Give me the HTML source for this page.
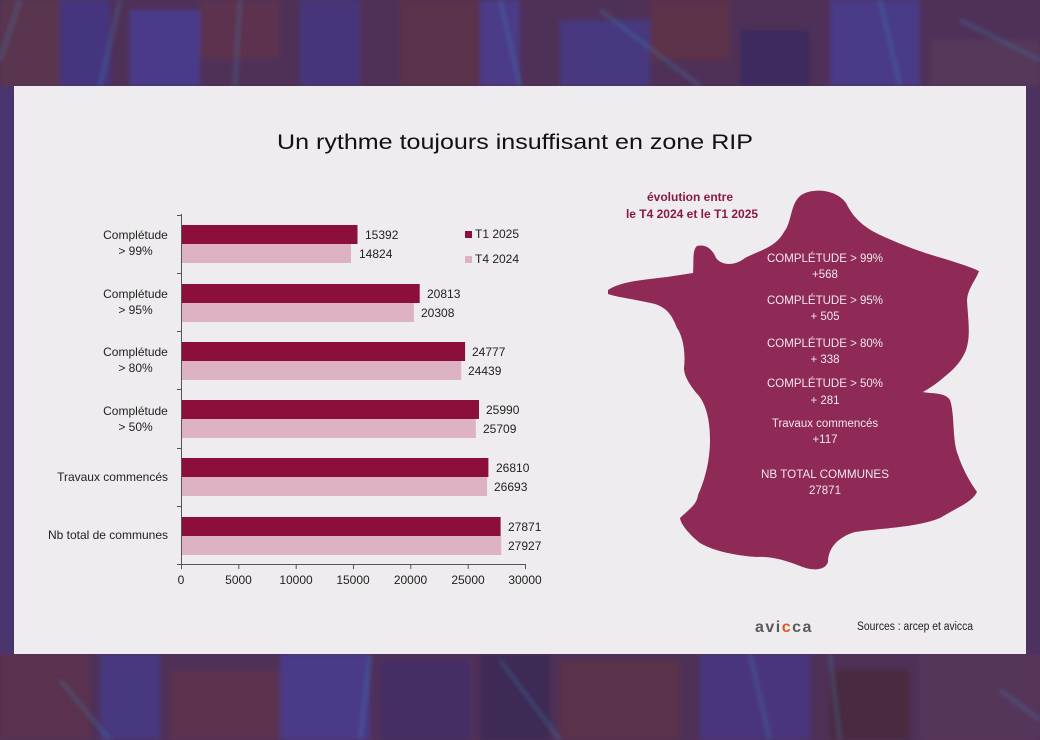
<!DOCTYPE html>
<html><head><meta charset="utf-8">
<style>
html,body{margin:0;padding:0;width:1040px;height:740px;overflow:hidden;background:#4e3058;}
svg{display:block;}
text{font-family:"Liberation Sans",Arial,sans-serif;}
</style></head>
<body>
<svg width="1040" height="740" viewBox="0 0 1040 740" xmlns="http://www.w3.org/2000/svg">
<defs>
<filter id="bl" x="-10%" y="-10%" width="120%" height="120%"><feGaussianBlur stdDeviation="2.5"/></filter>
</defs>
<!-- background texture -->
<rect x="0" y="0" width="1040" height="740" fill="#4f3158"/>
<g filter="url(#bl)">
<rect x="0" y="0" width="60" height="86" fill="#5a3450"/>
<rect x="60" y="0" width="50" height="86" fill="#45357e"/>
<rect x="130" y="10" width="70" height="76" fill="#4a3a8a"/>
<rect x="200" y="0" width="80" height="60" fill="#5c3350"/>
<rect x="300" y="0" width="60" height="86" fill="#46357a"/>
<rect x="400" y="0" width="100" height="86" fill="#5a3248"/>
<rect x="480" y="0" width="40" height="86" fill="#4c3a88"/>
<rect x="560" y="20" width="90" height="66" fill="#47387f"/>
<rect x="650" y="0" width="80" height="60" fill="#5b3249"/>
<rect x="740" y="30" width="70" height="56" fill="#3d2c5e"/>
<rect x="830" y="0" width="90" height="86" fill="#4a3b87"/>
<rect x="930" y="40" width="110" height="46" fill="#55375a"/>
<rect x="0" y="654" width="90" height="86" fill="#5a3350"/>
<rect x="100" y="654" width="60" height="86" fill="#47387f"/>
<rect x="170" y="670" width="110" height="70" fill="#5c3350"/>
<rect x="280" y="654" width="90" height="86" fill="#4a3a88"/>
<rect x="380" y="660" width="90" height="80" fill="#452f66"/>
<rect x="480" y="654" width="70" height="86" fill="#3c2a55"/>
<rect x="560" y="660" width="120" height="80" fill="#5a3248"/>
<rect x="700" y="654" width="110" height="86" fill="#48357e"/>
<rect x="830" y="670" width="80" height="70" fill="#4a2a40"/>
<rect x="920" y="654" width="120" height="86" fill="#56345a"/>
<rect x="0" y="86" width="14" height="568" fill="#4a3470"/>
<rect x="1026" y="86" width="14" height="568" fill="#4c3060"/>
</g>
<g stroke="#3f8fbf" stroke-width="2" opacity="0.55" filter="url(#bl)" fill="none">
<path d="M20 0 L0 60"/><path d="M120 0 L100 86"/><path d="M240 0 L235 86"/><path d="M500 0 L520 86"/>
<path d="M600 10 L700 86"/><path d="M880 0 L900 86"/><path d="M960 20 L1040 60"/>
<path d="M60 680 L110 740"/><path d="M370 654 L360 740"/><path d="M500 660 L560 740"/>
<path d="M750 654 L770 740"/><path d="M830 654 L840 740"/><path d="M1000 690 L1040 720"/>
</g>

<!-- slide -->
<rect x="14" y="86" width="1012" height="568" fill="#eeecee"/>

<!-- title -->
<text x="515" y="149" font-size="21" fill="#111" text-anchor="middle" textLength="476" lengthAdjust="spacingAndGlyphs">Un rythme toujours insuffisant en zone RIP</text>

<!-- bars -->
<g>
<rect x="181" y="225" width="176.5" height="19" fill="#8b0e3c"/>
<rect x="181" y="244" width="170" height="19" fill="#ddb3c4"/>
<rect x="181" y="284" width="238.7" height="19" fill="#8b0e3c"/>
<rect x="181" y="303" width="232.9" height="19" fill="#ddb3c4"/>
<rect x="181" y="342" width="284.1" height="19" fill="#8b0e3c"/>
<rect x="181" y="361" width="280.2" height="19" fill="#ddb3c4"/>
<rect x="181" y="400" width="298" height="19" fill="#8b0e3c"/>
<rect x="181" y="419" width="294.8" height="19" fill="#ddb3c4"/>
<rect x="181" y="458" width="307.4" height="19" fill="#8b0e3c"/>
<rect x="181" y="477" width="306.1" height="19" fill="#ddb3c4"/>
<rect x="181" y="517" width="319.6" height="19" fill="#8b0e3c"/>
<rect x="181" y="536" width="320.2" height="19" fill="#ddb3c4"/>
</g>

<!-- axes -->
<g stroke="#555" stroke-width="1" fill="none">
<path d="M181.5 214 V564.5 H525"/>
<path d="M177 215.5 H181 M177 273.5 H181 M177 331.5 H181 M177 389.5 H181 M177 448.5 H181 M177 506.5 H181 M177 564.5 H181"/>
<path d="M181.5 564 V569 M238.8 564 V569 M296.2 564 V569 M353.5 564 V569 M410.8 564 V569 M468.2 564 V569 M525.5 564 V569"/>
</g>

<g font-size="12" fill="#222" text-anchor="middle">
<text x="181" y="584">0</text>
<text x="238.5" y="584">5000</text>
<text x="296" y="584">10000</text>
<text x="353" y="584">15000</text>
<text x="410.5" y="584">20000</text>
<text x="468" y="584">25000</text>
<text x="525" y="584">30000</text>
</g>

<!-- category labels -->
<g font-size="12" fill="#222" text-anchor="middle">
<text x="135.5" y="239">Complétude</text><text x="135.5" y="255">&gt; 99%</text>
<text x="135.5" y="298">Complétude</text><text x="135.5" y="314">&gt; 95%</text>
<text x="135.5" y="356">Complétude</text><text x="135.5" y="372">&gt; 80%</text>
<text x="135.5" y="415">Complétude</text><text x="135.5" y="431">&gt; 50%</text>
</g>
<g font-size="12" fill="#222" text-anchor="end">
<text x="168" y="481">Travaux commencés</text>
<text x="168" y="539">Nb total de communes</text>
</g>

<!-- value labels -->
<g font-size="12" fill="#222">
<text x="365" y="239">15392</text><text x="359" y="258">14824</text>
<text x="427" y="298">20813</text><text x="421" y="317">20308</text>
<text x="472" y="356">24777</text><text x="468" y="375">24439</text>
<text x="486" y="414">25990</text><text x="483" y="433">25709</text>
<text x="496" y="472">26810</text><text x="494" y="491">26693</text>
<text x="508" y="531">27871</text><text x="508" y="550">27927</text>
</g>

<!-- legend -->
<rect x="465" y="231" width="7" height="7" fill="#8b0e3c"/>
<text x="475" y="238" font-size="12" fill="#222">T1 2025</text>
<rect x="465" y="256" width="7" height="7" fill="#ddb3c4"/>
<text x="475" y="263" font-size="12" fill="#222">T4 2024</text>

<!-- map -->
<path fill="#8e2a55" d="M608,290
C 620,282 640,280 667,277
L 693,273
C 694,262 692,250 697,246
C 705,244 712,248 716,258
C 722,266 735,266 745,258
C 760,250 775,248 784,232
C 792,222 790,205 800,196
C 810,188 835,188 846,203
C 852,215 860,225 878,234
C 895,242 915,250 935,256
C 955,262 968,266 979,271
C 976,280 968,288 967,300
C 968,320 971,335 966,350
C 960,365 950,372 943,378
C 936,384 930,388 923,392
C 932,394 945,392 950,400
C 955,415 952,440 958,455
C 963,470 970,482 977,492
C 972,502 960,506 940,518
C 915,528 880,528 855,532
C 838,537 828,548 828,562
C 825,571 812,571 800,566
C 785,560 770,556 757,557
C 740,556 715,552 700,543
C 690,535 681,525 680,518
C 688,510 697,505 698,495
C 705,480 710,460 710,440
C 710,420 706,405 699,396
C 690,386 684,376 684,368
C 686,350 682,335 677,328
C 672,315 667,308 655,304
C 640,300 620,298 608,294 Z"/>

<g font-size="12" font-weight="bold" fill="#8a1a45" text-anchor="middle">
<text x="690" y="201">évolution entre</text>
<text x="692" y="218">le T4 2024 et le T1 2025</text>
</g>

<g font-size="11.5" fill="#f3e6ec" text-anchor="middle">
<text x="825" y="262" textLength="116" lengthAdjust="spacingAndGlyphs">COMPLÉTUDE &gt; 99%</text>
<text x="825" y="278">+568</text>
<text x="825" y="304" textLength="116" lengthAdjust="spacingAndGlyphs">COMPLÉTUDE &gt; 95%</text>
<text x="825" y="320">+ 505</text>
<text x="825" y="347" textLength="116" lengthAdjust="spacingAndGlyphs">COMPLÉTUDE &gt; 80%</text>
<text x="825" y="363">+ 338</text>
<text x="825" y="387" textLength="116" lengthAdjust="spacingAndGlyphs">COMPLÉTUDE &gt; 50%</text>
<text x="825" y="404">+ 281</text>
<text x="825" y="427">Travaux commencés</text>
<text x="825" y="443">+117</text>
<text x="825" y="478" textLength="128" lengthAdjust="spacingAndGlyphs">NB TOTAL COMMUNES</text>
<text x="825" y="494">27871</text>
</g>

<!-- footer -->
<text x="755" y="632" font-size="16" font-weight="bold" fill="#5a5a5a" letter-spacing="1.5">avi<tspan fill="#e0561e">c</tspan>ca</text>
<text x="857" y="630" font-size="11.5" fill="#222" textLength="116" lengthAdjust="spacingAndGlyphs">Sources : arcep et avicca</text>
</svg>
</body></html>
